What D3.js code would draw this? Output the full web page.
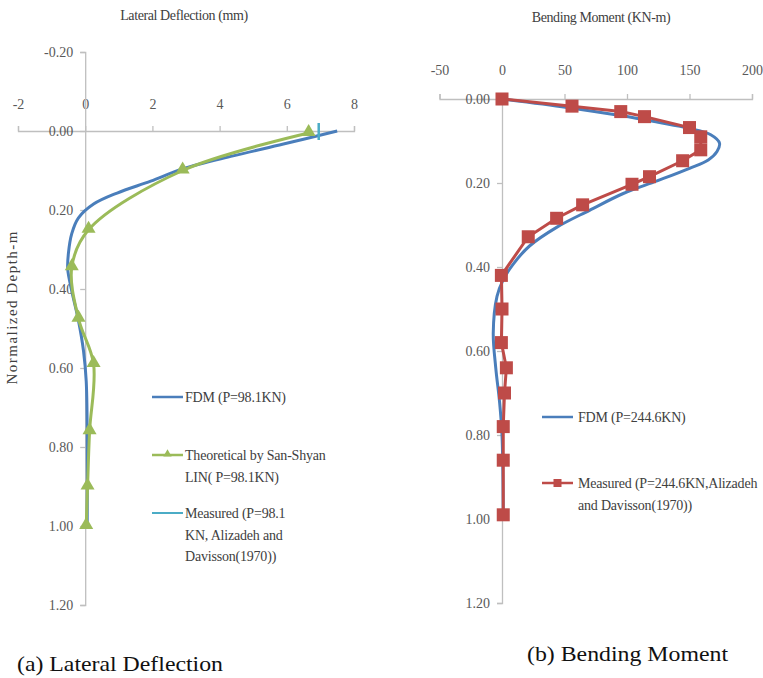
<!DOCTYPE html>
<html>
<head>
<meta charset="utf-8">
<script src="https://cdn.jsdelivr.net/npm/d3@7"></script>
<style>
  body { margin: 0; background: #fff; }
  svg { display: block; }
</style>
</head>
<body>
<svg id="chart" width="763" height="678"></svg>
<script>
// ---- (a) Lateral deflection data: depth (normalized) and deflection (mm) ----
const defFdmDepth = [0.0, 0.033, 0.063, 0.096, 0.127, 0.157, 0.185, 0.22, 0.26, 0.31, 0.35, 0.405, 0.48, 0.557, 0.633, 0.77, 1.0];
const defFdmValue = [7.5, 5.9, 4.4, 2.9, 1.95, 0.95, 0.25, -0.2, -0.4, -0.5, -0.52, -0.4, -0.2, -0.05, 0.03, 0.06, 0.06];
const defTheoDepth = [0.005, 0.1, 0.25, 0.345, 0.475, 0.59, 0.76, 0.9, 1.0];
const defTheoValue = [6.65, 2.9, 0.1, -0.4, -0.2, 0.25, 0.13, 0.07, 0.03];
const defMeasDepth = [0.0];
const defMeasValue = [6.95];
const defXTicks = [-2, 0, 2, 4, 6, 8];
const defYTicks = [-0.2, 0, 0.2, 0.4, 0.6, 0.8, 1.0, 1.2];

// ---- (b) Bending moment data: depth (normalized) and moment (KN-m) ----
const momFdmDepth = [0, 0.02, 0.04, 0.055, 0.07, 0.085, 0.105, 0.125, 0.145, 0.165, 0.195, 0.225, 0.265, 0.305, 0.35, 0.393, 0.43, 0.47, 0.557, 0.64, 0.72, 0.8, 1.0];
const momFdmValue = [0, 52, 96, 124, 150, 167, 174, 172, 165, 150, 124, 97, 70, 44, 22, 9, 1, -4, -7, -5, -2, 0, 1];
const momMeasDepth = [0, 0.017, 0.030, 0.042, 0.068, 0.09, 0.121, 0.147, 0.185, 0.203, 0.252, 0.284, 0.328, 0.42, 0.5, 0.58, 0.64, 0.70, 0.78, 0.86, 0.99];
const momMeasValue = [0, 56, 95, 114, 150, 159, 159, 144.5, 118, 104, 64.5, 43.7, 21, -0.5, 0, -0.5, 3.5, 2, 1, 1, 1];
const momXTicks = [-50, 0, 50, 100, 150, 200];
const momYTicks = [0, 0.2, 0.4, 0.6, 0.8, 1.0, 1.2];

const C_BLUE = "#4a7ebb", C_GREEN = "#9bbb59", C_RED = "#be4b48", C_CYAN = "#4bacc6";
const AXIS = "#bfbfbf", LABEL = "#595959", TEXT = "#404040";
const FONT = "'Liberation Serif', 'Times New Roman', Times, 'DejaVu Serif', serif";

const svg = d3.select("#chart").attr("font-family", FONT);
const zip = (ds, vs) => ds.map((d, i) => ({ depth: d, value: vs[i] }));

// tick formats using a plain hyphen for negatives
const fmtInt = d => d3.format("d")(d).replace("\u2212", "-");
const fmt2 = d => d3.format(".2f")(d).replace("\u2212", "-");

function styleAxis(g) {
  g.attr("font-family", FONT).attr("font-size", 14);
  g.select(".domain").attr("stroke", AXIS).attr("stroke-width", 1.3);
  g.selectAll(".tick line").attr("stroke", AXIS).attr("stroke-width", 1.3);
  g.selectAll(".tick text").attr("fill", LABEL);
}

// ================= Panel (a) =================
const xa = d3.scaleLinear().domain([-2, 8]).range([18, 354]);
const ya = d3.scaleLinear().domain([-0.2, 1.2]).range([52, 605]);

svg.append("g").attr("transform", `translate(0,${ya(0)})`)
  .call(d3.axisTop(xa).tickValues(defXTicks).tickSizeOuter(5).tickSize(5).tickPadding(17).tickFormat(fmtInt))
  .call(styleAxis);
svg.append("g").attr("transform", `translate(${xa(0)},0)`)
  .call(d3.axisLeft(ya).tickValues(defYTicks).tickSizeOuter(0).tickSize(5).tickPadding(7).tickFormat(fmt2))
  .call(styleAxis);

const lineA = d3.line().x(d => xa(d.value)).y(d => ya(d.depth)).curve(d3.curveCatmullRom.alpha(0.5));

svg.append("path").datum(zip(defFdmDepth, defFdmValue))
  .attr("d", lineA).attr("fill", "none").attr("stroke", C_BLUE).attr("stroke-width", 3);
svg.append("path").datum(zip(defTheoDepth, defTheoValue))
  .attr("d", lineA).attr("fill", "none").attr("stroke", C_GREEN).attr("stroke-width", 3);

const tri = d3.symbol().type(d3.symbolTriangle).size(85);
svg.append("g").selectAll("path").data(zip(defTheoDepth, defTheoValue)).join("path")
  .attr("d", tri).attr("fill", C_GREEN)
  .attr("transform", d => `translate(${xa(d.value)},${ya(d.depth) - 1})`);

// measured point drawn as a short vertical dash marker
svg.append("g").selectAll("line").data(zip(defMeasDepth, defMeasValue)).join("line")
  .attr("x1", d => xa(d.value)).attr("x2", d => xa(d.value))
  .attr("y1", d => ya(d.depth) - 8).attr("y2", d => ya(d.depth) + 9)
  .attr("stroke", C_CYAN).attr("stroke-width", 2.5);

svg.append("text").attr("x", 184).attr("y", 20).attr("text-anchor", "middle")
  .attr("fill", TEXT).attr("font-size", 14).attr("letter-spacing", -0.4)
  .text("Lateral Deflection (mm)");
svg.append("text").attr("transform", "translate(17,308) rotate(-90)").attr("text-anchor", "middle")
  .attr("fill", TEXT).attr("font-size", 15)
  .attr("textLength", 153).attr("lengthAdjust", "spacing")
  .text("Normalized Depth-m");

// legend (a)
const legA = svg.append("g").attr("font-size", 14).attr("fill", TEXT).attr("letter-spacing", -0.2);
legA.append("line").attr("x1", 152).attr("x2", 183).attr("y1", 397).attr("y2", 397).attr("stroke", C_BLUE).attr("stroke-width", 2.5);
legA.append("text").attr("x", 185).attr("y", 402).text("FDM (P=98.1KN)");
legA.append("line").attr("x1", 152).attr("x2", 183).attr("y1", 455).attr("y2", 455).attr("stroke", C_GREEN).attr("stroke-width", 2.5);
legA.append("path").attr("d", d3.symbol().type(d3.symbolTriangle).size(30)).attr("fill", C_GREEN).attr("transform", "translate(167.5,454)");
legA.append("text").attr("x", 185).attr("y", 460).text("Theoretical by San-Shyan");
legA.append("text").attr("x", 185).attr("y", 482).text("LIN( P=98.1KN)");
legA.append("line").attr("x1", 152).attr("x2", 183).attr("y1", 513).attr("y2", 513).attr("stroke", C_CYAN).attr("stroke-width", 2);
legA.append("text").attr("x", 185).attr("y", 518).text("Measured (P=98.1");
legA.append("text").attr("x", 185).attr("y", 540).text("KN, Alizadeh and");
legA.append("text").attr("x", 185).attr("y", 561).text("Davisson(1970))");

svg.append("text").attr("x", 17).attr("y", 671).attr("fill", "#111")
  .attr("font-size", 21).attr("textLength", 206).attr("lengthAdjust", "spacingAndGlyphs")
  .text("(a) Lateral Deflection");

// ================= Panel (b) =================
const xb = d3.scaleLinear().domain([-50, 200]).range([439.5, 752]);
const yb = d3.scaleLinear().domain([0, 1.2]).range([99, 603]);

svg.append("g").attr("transform", `translate(0,${yb(0)})`)
  .call(d3.axisTop(xb).tickValues(momXTicks).tickSizeOuter(5).tickSize(5).tickPadding(19).tickFormat(fmtInt))
  .call(styleAxis);
svg.append("g").attr("transform", `translate(${xb(0)},0)`)
  .call(d3.axisLeft(yb).tickValues(momYTicks).tickSizeOuter(0).tickSize(5).tickPadding(7).tickFormat(fmt2))
  .call(styleAxis);

const lineB = d3.line().x(d => xb(d.value)).y(d => yb(d.depth)).curve(d3.curveCatmullRom.alpha(0.5));
const lineBStraight = d3.line().x(d => xb(d.value)).y(d => yb(d.depth));

svg.append("path").datum(zip(momFdmDepth, momFdmValue))
  .attr("d", lineB).attr("fill", "none").attr("stroke", C_BLUE).attr("stroke-width", 3);
svg.append("path").datum(zip(momMeasDepth, momMeasValue))
  .attr("d", lineBStraight).attr("fill", "none").attr("stroke", C_RED).attr("stroke-width", 3);
svg.append("g").selectAll("rect").data(zip(momMeasDepth, momMeasValue)).join("rect")
  .attr("x", d => xb(d.value) - 6.5).attr("y", d => yb(d.depth) - 6.5)
  .attr("width", 13).attr("height", 13).attr("fill", C_RED);

svg.append("text").attr("x", 601).attr("y", 22).attr("text-anchor", "middle")
  .attr("fill", TEXT).attr("font-size", 14).attr("letter-spacing", -0.4)
  .text("Bending Moment (KN-m)");

// legend (b)
const legB = svg.append("g").attr("font-size", 14).attr("fill", TEXT).attr("letter-spacing", -0.2);
legB.append("line").attr("x1", 542).attr("x2", 573).attr("y1", 417).attr("y2", 417).attr("stroke", C_BLUE).attr("stroke-width", 2.5);
legB.append("text").attr("x", 578).attr("y", 422).text("FDM (P=244.6KN)");
legB.append("line").attr("x1", 542).attr("x2", 573).attr("y1", 483).attr("y2", 483).attr("stroke", C_RED).attr("stroke-width", 2.5);
legB.append("rect").attr("x", 553.5).attr("y", 479).attr("width", 8).attr("height", 8).attr("fill", C_RED);
legB.append("text").attr("x", 578).attr("y", 488).text("Measured (P=244.6KN,Alizadeh");
legB.append("text").attr("x", 578).attr("y", 510).text("and Davisson(1970))");

svg.append("text").attr("x", 527).attr("y", 661).attr("fill", "#111")
  .attr("font-size", 21).attr("textLength", 201).attr("lengthAdjust", "spacingAndGlyphs")
  .text("(b) Bending Moment");
</script>
</body>
</html>
